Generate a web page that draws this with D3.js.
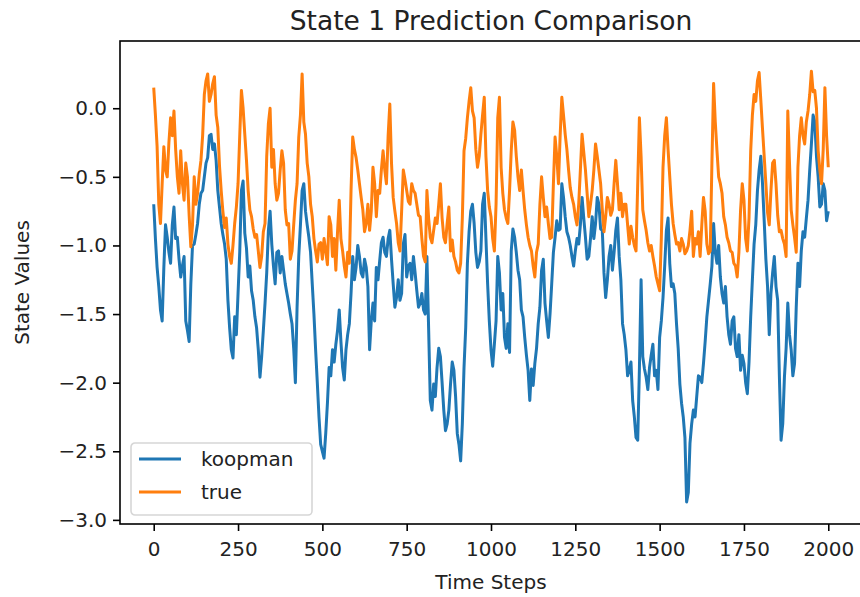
<!DOCTYPE html>
<html>
<head>
<meta charset="utf-8">
<script src="https://cdn.jsdelivr.net/npm/d3@7"></script>
<style>
  body { margin: 0; background: #fff; }
  text { font-family: "DejaVu Sans", sans-serif; fill: #222; }
</style>
</head>
<body>
<div id="plot"></div>
<script>
// Chart size
const width = 860;
const height = 597;
const margin = { left: 120, right: -2, top: 41, bottom: 73 };

// Data: values at every 10th step (0..2000)
// and the in-between readings at steps 5, 15, ..., 1995
const koopmanAt10 = [
  -0.70, -1.16, -1.47, -1.16, -0.94, -1.13, -0.72, -0.94, -1.23, -1.08,
  -1.62, -1.28, -0.99, -0.84, -0.62, -0.50, -0.36, -0.19, -0.26, -0.60,
  -0.84, -0.99, -1.40, -1.76, -1.52, -1.35, -0.60, -0.91, -1.23, -1.33,
  -1.52, -1.76, -1.81, -1.42, -0.89, -0.99, -1.28, -1.04, -1.08, -1.28,
  -1.42, -1.57, -2.00, -1.08, -0.60, -0.75, -0.94, -1.28, -1.76, -2.25,
  -2.50, -2.37, -1.89, -1.76, -1.72, -1.47, -1.89, -1.76, -1.57, -1.08,
  -1.16, -1.08, -1.23, -1.16, -1.76, -1.42, -1.16, -1.11, -0.94, -1.08,
  -0.89, -1.28, -1.38, -1.40, -0.99, -1.23, -1.13, -1.08, -1.33, -1.42,
  -1.47, -1.08, -2.13, -2.01, -1.89, -1.81, -2.20, -2.30, -2.01, -1.91,
  -2.37, -2.57, -1.89, -1.13, -0.75, -0.84, -1.16, -1.04, -0.62, -1.28,
  -1.76, -1.72, -1.08, -1.47, -1.67, -1.57, -1.04, -0.94, -1.18, -1.47,
  -1.67, -1.91, -1.90, -1.86, -1.57, -1.18, -1.42, -1.67, -1.28, -0.94,
  -0.89, -0.55, -0.79, -0.94, -1.08, -1.04, -0.99, -0.65, -0.94, -1.08,
  -0.79, -0.84, -0.70, -0.89, -1.38, -1.08, -1.18, -0.89, -1.08, -1.57,
  -1.76, -1.91, -2.13, -2.40, -1.90, -1.81, -1.96, -1.89, -1.72, -1.91,
  -1.67, -1.38, -0.89, -1.13, -1.28, -1.57, -2.01, -2.25, -2.87, -2.44,
  -2.20, -2.10, -1.96, -1.86, -1.52, -1.28, -0.84, -1.13, -1.23, -1.42,
  -1.52, -1.72, -1.52, -1.81, -1.91, -1.86, -2.08, -1.52, -0.99, -0.60,
  -0.35, -0.82, -1.30, -1.35, -1.08, -1.40, -2.42, -1.96, -1.42, -1.76,
  -1.86, -1.13, -1.04, -0.94, -0.67, -0.26, -0.10, -0.50, -0.70, -0.60,
  -0.75
];

const koopmanAt5 = [
  -0.95, -1.30, -1.55, -0.85, -1.05, -0.85, -0.95, -1.10, -1.15, -1.55,
  -1.70, -1.00, -0.92, -0.70, -0.60, -0.40, -0.20, -0.30, -0.38, -0.72,
  -0.92, -1.10, -1.60, -1.82, -1.65, -1.05, -0.53, -1.02, -1.15, -1.40,
  -1.60, -1.96, -1.62, -1.20, -0.75, -1.15, -1.05, -1.20, -1.18, -1.35,
  -1.50, -1.75, -1.45, -0.85, -0.55, -0.85, -1.05, -1.50, -2.00, -2.45,
  -2.55, -2.15, -1.95, -1.85, -1.62, -1.70, -1.98, -1.65, -1.35, -1.25,
  -1.00, -1.20, -1.10, -1.30, -1.55, -1.55, -1.25, -0.98, -1.05, -0.95,
  -1.10, -1.45, -1.25, -1.35, -0.92, -1.15, -1.25, -1.20, -1.45, -1.35,
  -1.50, -1.60, -2.20, -2.10, -1.75, -2.00, -2.35, -2.20, -1.85, -2.10,
  -2.45, -2.30, -1.60, -0.90, -0.70, -1.05, -1.12, -0.70, -0.95, -1.55,
  -1.88, -1.55, -1.20, -1.35, -1.75, -1.78, -0.88, -1.05, -1.25, -1.52,
  -1.80, -2.13, -2.02, -1.75, -1.45, -1.10, -1.55, -1.50, -1.05, -0.82,
  -0.88, -0.65, -0.90, -1.00, -1.15, -0.95, -0.85, -0.80, -1.10, -0.95,
  -0.95, -0.65, -0.88, -1.20, -1.25, -1.00, -1.05, -0.80, -1.25, -1.65,
  -1.95, -1.85, -2.25, -2.42, -1.25, -1.90, -2.05, -1.80, -1.95, -2.05,
  -1.55, -1.15, -0.80, -1.30, -1.35, -1.75, -2.15, -2.40, -2.80, -2.30,
  -2.25, -1.95, -2.00, -1.70, -1.40, -1.15, -1.05, -1.00, -1.35, -1.30,
  -1.65, -1.55, -1.75, -1.65, -1.80, -2.00, -1.85, -1.25, -0.85, -0.45,
  -0.55, -1.10, -1.65, -1.20, -1.30, -1.95, -2.30, -1.75, -1.65, -1.95,
  -1.45, -1.30, -0.90, -0.80, -0.45, -0.05, -0.35, -0.72, -0.55, -0.82
];

const trueAt10 = [
   0.15, -0.28, -0.84, -0.28, -0.50, -0.07, -0.02, -0.50, -0.31, -0.67,
  -0.50, -1.01, -0.50, -0.62, -0.38,  0.10,  0.25,  0.10,  0.23, -0.14,
  -0.60, -0.87, -0.99, -1.13, -0.84, -0.55,  0.13, -0.19, -0.60, -0.79,
  -0.94, -1.04, -1.08, -0.84, -0.11, -0.43, -0.55, -0.62, -0.31, -0.74,
  -0.84, -1.04, -0.67, -0.21,  0.25, -0.19, -0.50, -0.79, -1.04, -0.99,
  -1.10, -1.04, -0.79, -1.08, -1.18, -0.67, -1.04, -1.23, -1.13, -0.21,
  -0.36, -0.55, -0.74, -0.84, -0.89, -0.43, -0.79, -0.62, -0.31, -0.55,
   0.03, -0.65, -0.84, -1.04, -0.45, -0.60, -0.70, -0.60, -0.70, -0.79,
  -1.08, -0.60, -0.94, -0.89, -0.84, -0.55, -0.94, -0.84, -1.04, -1.08,
  -1.18, -1.13, -0.31, -0.07,  0.15, -0.07, -0.43, -0.19,  0.08, -0.60,
  -0.79, -1.04, -0.07, -0.43, -0.74, -0.84, -0.31, -0.16, -0.50, -0.45,
  -0.74, -0.94, -1.04, -1.23, -0.99, -0.50, -0.79, -0.84, -0.94, -0.21,
  -0.55,  0.08, -0.19, -0.45, -0.65, -0.79, -0.70, -0.19, -0.45, -0.79,
  -0.60, -0.26, -0.45, -0.74, -0.79, -0.70, -0.74, -0.38, -0.74, -0.79,
  -0.70, -0.99, -0.94, -1.04, -0.07, -0.74, -0.89, -1.04, -1.08, -1.23,
  -1.33, -0.43, -0.07, -0.50, -0.84, -0.99, -1.04, -0.99, -1.04, -0.89,
  -1.08, -0.99, -1.08, -0.65, -0.99, -1.04,  0.18, -0.31, -0.55, -0.79,
  -0.94, -1.04, -1.13, -1.23, -0.74, -0.67, -1.04, -0.31,  0.10,  0.20,
   0.06, -0.35, -0.76, -0.60, -0.38, -0.78, -0.89, -0.99, -0.02, -0.74,
  -0.94, -0.43, -0.07, -0.26, -0.02,  0.27,  0.13, -0.31, -0.55,  0.15,
  -0.43
];

const trueAt5 = [
  -0.05, -0.70, -0.55, -0.45, -0.25, -0.20, -0.30, -0.62, -0.55, -0.40,
  -0.78, -0.85, -0.70, -0.48, -0.20,  0.20,  0.05,  0.18, -0.05, -0.42,
  -0.75, -0.80, -1.08, -1.00, -0.72, -0.20,  0.00, -0.38, -0.74, -0.88,
  -0.92, -1.16, -0.90, -0.35,  0.00, -0.30, -0.67, -0.45, -0.40, -0.85,
  -1.10, -0.85, -0.55, -0.05, -0.10, -0.40, -0.70, -0.95, -1.12, -0.98,
  -0.95, -1.14, -0.85, -0.95, -0.90, -0.95, -1.15, -1.05, -0.60, -0.30,
  -0.45, -0.65, -0.90, -0.70, -0.75, -0.55, -0.60, -0.45, -0.45, -0.20,
  -0.40, -0.75, -0.98, -0.75, -0.52, -0.68, -0.55, -0.62, -0.78, -0.95,
  -1.12, -0.80, -0.98, -0.80, -0.70, -0.80, -0.98, -0.72, -0.96, -1.12,
  -1.20, -0.80, -0.22,  0.05, -0.02, -0.30, -0.35, -0.05, -0.35, -0.72,
  -0.95, -0.70,  0.08, -0.62, -0.80, -0.60, -0.10, -0.35, -0.60, -0.60,
  -0.85, -1.00, -1.15, -1.05, -0.70, -0.65, -0.72, -0.95, -0.55, -0.35,
  -0.20, -0.05, -0.30, -0.58, -0.70, -0.85, -0.45, -0.32, -0.62, -0.70,
  -0.45, -0.35, -0.55, -0.90, -0.65, -0.78, -0.55, -0.55, -0.62, -0.70,
  -0.85, -0.86, -1.00, -0.55, -0.35, -0.82, -0.98, -1.00, -1.15, -1.28,
  -0.95, -0.20, -0.30, -0.70, -0.92, -0.98, -0.95, -1.06, -1.00, -0.75,
  -0.95, -0.90, -0.85, -0.75, -1.06, -0.40, -0.10, -0.50, -0.62, -0.85,
  -0.98, -1.05, -1.15, -1.05, -0.55, -0.95, -0.80, -0.05,  0.05,  0.26,
  -0.15, -0.55, -0.85, -0.40, -0.55, -0.90, -0.95, -1.08, -0.40, -0.85,
  -1.05, -0.20, -0.20, -0.10,  0.10,  0.12,  0.00, -0.45, -0.30, -0.20
];

const seriesNames = ["koopman", "true"];
const seriesColors = ["#1f77b4", "#ff7f0e"];
const xTicks = [0, 250, 500, 750, 1000, 1250, 1500, 1750, 2000];
const yTicks = [0.0, -0.5, -1.0, -1.5, -2.0, -2.5, -3.0];

// Put the two readings of a series back into step order
function interleave(at10, at5) {
  const points = [];
  at10.forEach((v, i) => {
    points.push({ step: i * 10, value: v });
    if (i < at5.length) points.push({ step: i * 10 + 5, value: at5[i] });
  });
  return points;
}

const series = [
  interleave(koopmanAt10, koopmanAt5),
  interleave(trueAt10, trueAt5)
];

// SVG
const svg = d3.select("#plot")
  .append("svg")
  .attr("width", width)
  .attr("height", height);

// Scales
const x = d3.scaleLinear()
  .domain([-100, 2100])
  .range([margin.left, width - margin.right]);

const y = d3.scaleLinear()
  .domain([-3.03, 0.49])
  .range([height - margin.bottom, margin.top]);

// Axes
const xAxis = d3.axisBottom(x)
  .tickValues(xTicks)
  .tickSize(7)
  .tickPadding(11)
  .tickFormat(d3.format("d"));

const yAxis = d3.axisLeft(y)
  .tickValues(yTicks)
  .tickSize(7)
  .tickPadding(6)
  .tickFormat(d => d3.format(".1f")(d).replace("-", "\u2212"));

svg.append("g")
  .attr("transform", `translate(0,${height - margin.bottom})`)
  .call(xAxis)
  .call(g => g.select(".domain").remove())
  .call(g => g.selectAll("line").attr("stroke", "#000").attr("stroke-width", 1.6))
  .call(g => g.selectAll("text").style("font-size", "20px").attr("fill", "#222")
    .style("font-family", "DejaVu Sans"));

svg.append("g")
  .attr("transform", `translate(${margin.left},0)`)
  .call(yAxis)
  .call(g => g.select(".domain").remove())
  .call(g => g.selectAll("line").attr("stroke", "#000").attr("stroke-width", 1.6))
  .call(g => g.selectAll("text").style("font-size", "20px").attr("fill", "#222")
    .style("font-family", "DejaVu Sans"));

// Lines
const plotArea = svg.append("g");

const line = d3.line()
  .x(d => x(d.step))
  .y(d => y(d.value));

series.forEach((points, i) => {
  plotArea.append("path")
    .datum(points)
    .attr("fill", "none")
    .attr("stroke", seriesColors[i])
    .attr("stroke-width", 3)
    .attr("stroke-linejoin", "round")
    .attr("d", line);
});

// Frame
svg.append("rect")
  .attr("x", x.range()[0])
  .attr("y", y.range()[1])
  .attr("width", x.range()[1] - x.range()[0])
  .attr("height", y.range()[0] - y.range()[1])
  .attr("fill", "none")
  .attr("stroke", "#000")
  .attr("stroke-width", 1.6);

// Title and labels
svg.append("text")
  .attr("x", (x.range()[0] + x.range()[1]) / 2)
  .attr("y", 30)
  .attr("text-anchor", "middle")
  .style("font-size", "26.5px")
  .text("State 1 Prediction Comparison");

svg.append("text")
  .attr("x", (x.range()[0] + x.range()[1]) / 2)
  .attr("y", 589)
  .attr("text-anchor", "middle")
  .style("font-size", "20px")
  .text("Time Steps");

svg.append("text")
  .attr("transform", `translate(29,${(y.range()[0] + y.range()[1]) / 2}) rotate(-90)`)
  .attr("text-anchor", "middle")
  .style("font-size", "20px")
  .text("State Values");

// Legend
const legend = svg.append("g").attr("transform", "translate(131,443)");

legend.append("rect")
  .attr("width", 181)
  .attr("height", 72)
  .attr("rx", 4)
  .attr("fill", "#fff")
  .attr("fill-opacity", 0.8)
  .attr("stroke", "#d6d6d6")
  .attr("stroke-width", 1.6);

seriesNames.forEach((name, i) => {
  const ly = 16 + i * 33;
  legend.append("line")
    .attr("x1", 8).attr("x2", 50)
    .attr("y1", ly).attr("y2", ly)
    .attr("stroke", seriesColors[i])
    .attr("stroke-width", 3);
  legend.append("text")
    .attr("x", 70)
    .attr("y", ly + 7)
    .style("font-size", "20px")
    .text(name);
});
</script>
</body>
</html>
